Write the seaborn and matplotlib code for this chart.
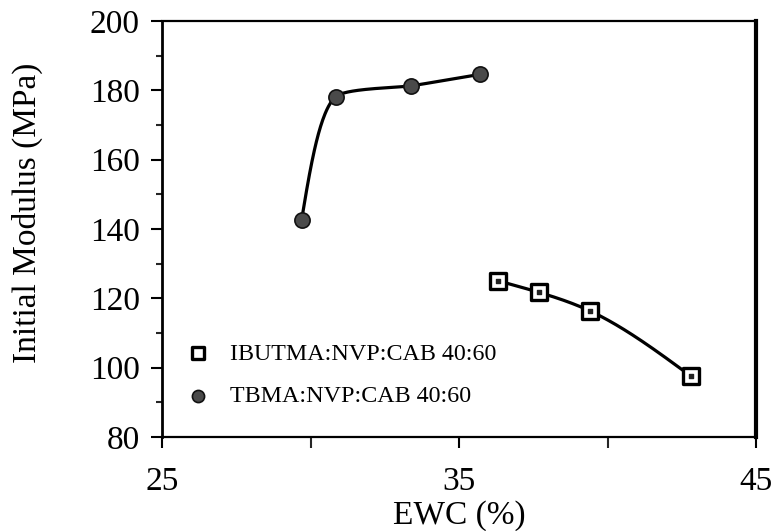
import numpy as np
import pandas as pd
import matplotlib
matplotlib.use("Agg")
import matplotlib.pyplot as plt
from matplotlib.ticker import MultipleLocator
import seaborn as sns

# EWC (%) and initial modulus (MPa) for the two copolymer series
ibutma_ewc = [36.3, 37.7, 39.4, 42.8]
ibutma_mod = [125.1, 121.7, 116.4, 97.6]
tbma_ewc = [29.7, 30.85, 33.4, 35.7]
tbma_mod = [142.6, 178.2, 181.3, 184.6]

ibutma_label = "IBUTMA:NVP:CAB 40:60"
tbma_label = "TBMA:NVP:CAB 40:60"
x_label = "EWC (%)"
y_label = "Initial Modulus (MPa)"
x_ticks = [25, 35, 45]
y_ticks = [80, 100, 120, 140, 160, 180, 200]

sns.set_theme(style="white")
plt.rcParams["font.family"] = ["Liberation Serif", "DejaVu Serif"]

XR, YR = (25, 45), (80, 200)
# approximate screen pixels per data unit, so the smoothing looks even
SX, SY = 594 / 20, 416 / 120


def _unit(v):
    return v / np.linalg.norm(v)


def hermite_curve(xs, ys, k=0.5, n=50):
    """Hermite curve through the points with chord-scaled tangents."""
    P = np.column_stack([np.asarray(xs, float) * SX, np.asarray(ys, float) * SY])
    m = len(P)
    t_in = [None] * m
    t_out = [None] * m
    for j in range(1, m - 1):
        d = _unit(_unit(P[j] - P[j - 1]) + _unit(P[j + 1] - P[j]))
        t_in[j] = d * np.linalg.norm(P[j] - P[j - 1]) * k
        t_out[j] = d * np.linalg.norm(P[j + 1] - P[j]) * k
    t_out[0] = 1.5 * (P[1] - P[0]) - 0.5 * t_in[1]
    t_in[m - 1] = 1.5 * (P[m - 1] - P[m - 2]) - 0.5 * t_out[m - 2]
    t = np.linspace(0, 1, n)[:, None]
    h00 = 2 * t**3 - 3 * t**2 + 1
    h10 = t**3 - 2 * t**2 + t
    h01 = -2 * t**3 + 3 * t**2
    h11 = t**3 - t**2
    segs = [h00 * P[i] + h10 * t_out[i] + h01 * P[i + 1] + h11 * t_in[i + 1]
            for i in range(m - 1)]
    C = np.vstack(segs)
    return C[:, 0] / SX, C[:, 1] / SY


def natural_spline(xs, ys, n=200):
    """Natural cubic spline y(x) through the points."""
    x = np.asarray(xs, float)
    y = np.asarray(ys, float)
    m = len(x)
    h = np.diff(x)
    s = np.diff(y) / h
    A = np.zeros((m, m))
    b = np.zeros(m)
    A[0, 0] = A[-1, -1] = 1.0
    for i in range(1, m - 1):
        A[i, i - 1] = h[i - 1]
        A[i, i] = 2 * (h[i - 1] + h[i])
        A[i, i + 1] = h[i]
        b[i] = 6 * (s[i] - s[i - 1])
    M = np.linalg.solve(A, b)
    xx = np.linspace(x[0], x[-1], n)
    idx = np.clip(np.searchsorted(x, xx) - 1, 0, m - 2)
    x0, x1, hh = x[idx], x[idx + 1], h[idx]
    yy = (M[idx] * (x1 - xx) ** 3 / (6 * hh) + M[idx + 1] * (xx - x0) ** 3 / (6 * hh)
          + (y[idx] / hh - M[idx] * hh / 6) * (x1 - xx)
          + (y[idx + 1] / hh - M[idx + 1] * hh / 6) * (xx - x0))
    return xx, yy


fig = plt.figure(figsize=(7.72, 5.31), dpi=100)
ax = fig.add_axes([162 / 772, 94 / 531, 594 / 772, 416 / 531])

curves = [hermite_curve(tbma_ewc, tbma_mod), natural_spline(ibutma_ewc, ibutma_mod)]
for cx, cy in curves:
    curve = pd.DataFrame({"x": cx, "y": cy})
    sns.lineplot(data=curve, x="x", y="y", sort=False, color="black",
                 linewidth=2.3, ax=ax, zorder=2)

df_i = pd.DataFrame({"x": ibutma_ewc, "y": ibutma_mod})
df_t = pd.DataFrame({"x": tbma_ewc, "y": tbma_mod})
sns.scatterplot(data=df_i, x="x", y="y", marker="s", s=130, facecolor="white",
                edgecolor="black", linewidth=2.4, ax=ax, zorder=3,
                label=ibutma_label)
# small dot inside the open squares
ax.scatter(ibutma_ewc, ibutma_mod, marker="s", s=8, color="#222222", zorder=4)
sns.scatterplot(data=df_t, x="x", y="y", marker="o", s=120, facecolor="#4a4a4a",
                edgecolor="#111111", linewidth=1.2, ax=ax, zorder=3,
                label=tbma_label)

ax.set_xlim(*XR)
ax.set_ylim(*YR)
ax.set_xticks(x_ticks)
ax.xaxis.set_minor_locator(MultipleLocator(5))
ax.set_yticks(y_ticks)
ax.yaxis.set_minor_locator(MultipleLocator(10))

ax.tick_params(axis="x", which="major", direction="out", length=8, width=1.5,
               pad=13, labelsize=24, color="black", labelcolor="black",
               bottom=True)
ax.tick_params(axis="x", which="minor", direction="out", length=8, width=1.5,
               bottom=True)
ax.tick_params(axis="y", which="major", direction="out", length=8, width=1.5,
               pad=8, labelsize=24, color="black", labelcolor="black", left=True)
ax.tick_params(axis="y", which="minor", direction="out", length=4, width=1.5,
               left=True)

for side, lw in [("left", 2.0), ("bottom", 1.6), ("top", 1.6), ("right", 3.0)]:
    ax.spines[side].set_visible(True)
    ax.spines[side].set_color("black")
    ax.spines[side].set_linewidth(lw)

ax.set_xlabel(x_label, fontsize=24, color="black")
ax.set_ylabel(y_label, fontsize=24, color="black")
ax.xaxis.set_label_coords(0.5, -0.152)
ax.yaxis.set_label_coords(-0.200, 0.538)

leg = ax.legend(loc="upper left", bbox_to_anchor=(0.02, 0.255), frameon=False,
                fontsize=17.3, handletextpad=0.85, labelspacing=0.85,
                borderpad=0, handlelength=1.0, markerscale=0.8)
for t in leg.get_texts():
    t.set_color("black")

fig.savefig("out.png", dpi=100, facecolor="white")
